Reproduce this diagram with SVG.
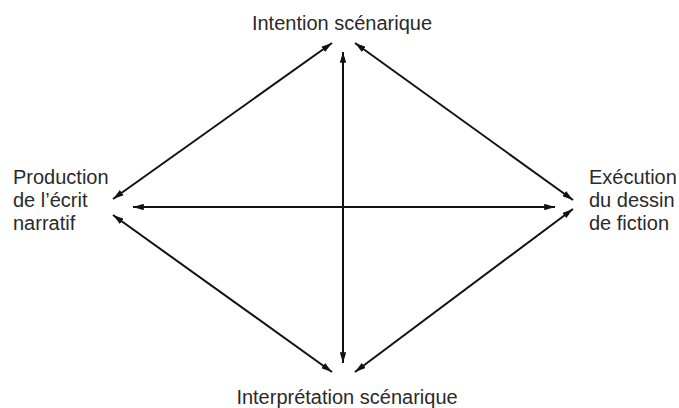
<svg xmlns="http://www.w3.org/2000/svg" width="679" height="408" viewBox="0 0 679 408">
<style>
.t{font-family:"Liberation Sans",Arial,sans-serif;font-size:20px;fill:#2a2a2a}
.c line{stroke:#111;stroke-width:2;marker-start:url(#ah);marker-end:url(#ah)}
</style>
<defs>
<marker id="ah" viewBox="0 0 10 6" refX="10" refY="3" markerWidth="11" markerHeight="6.5" markerUnits="userSpaceOnUse" orient="auto-start-reverse">
<path d="M0,0 L10,3 L0,6 Z" fill="#111"/>
</marker>
</defs>
<rect width="679" height="408" fill="#fff"/>
<g id="top"><text class="t" x="342" y="30" text-anchor="middle">Intention scénarique</text></g>
<g id="left"><text class="t" x="13" y="184">Production</text><text class="t" x="13" y="207">de l’écrit</text><text class="t" x="13" y="230">narratif</text></g>
<g id="right"><text class="t" x="589" y="184">Exécution</text><text class="t" x="589" y="207">du dessin</text><text class="t" x="589" y="230">de fiction</text></g>
<g id="bottom"><text class="t" x="347" y="404" text-anchor="middle">Interprétation scénarique</text></g>
<g class="c" id="connectors">
<line x1="343" y1="52" x2="343" y2="363"/>
<line x1="133" y1="207" x2="555" y2="207"/>
<line x1="113" y1="199" x2="332" y2="43"/>
<line x1="355" y1="43" x2="573" y2="200"/>
<line x1="113" y1="215" x2="332" y2="372"/>
<line x1="355" y1="372" x2="573" y2="209"/>
</g>
</svg>
